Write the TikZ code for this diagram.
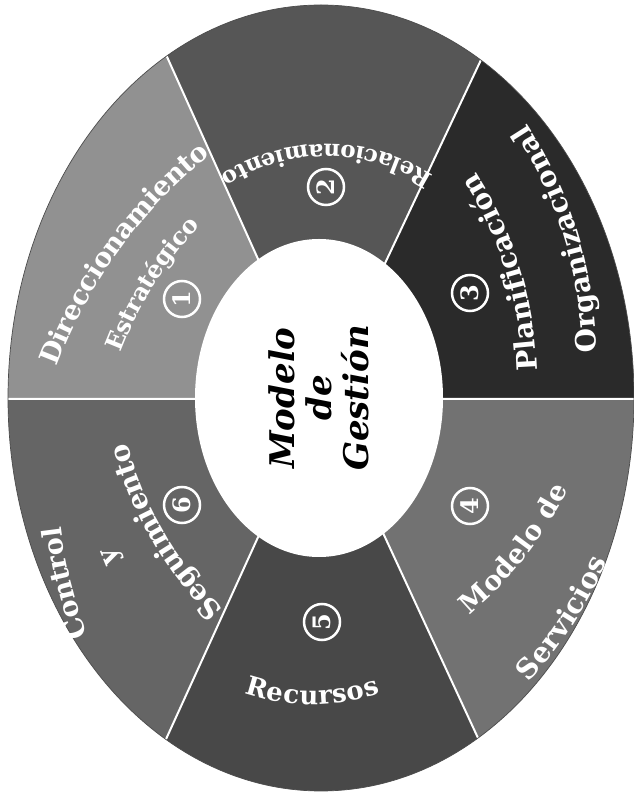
\documentclass[tikz,border=0pt]{standalone}
\usepackage{fontspec}
\usetikzlibrary{calc,decorations.text}
\newfontfamily\ringfam{DejaVu Serif}
\newcommand{\ringline}[7]{%
  \pgfmathsetmacro{\rlX}{#1}%
  \pgfmathsetmacro{\rlY}{796-#2}%
  \pgfmathsetmacro{\rlD}{min(80,13000/#4)}%
  \pgfmathsetmacro{\rlR}{-0.34*#7}%
  \ifnum#5>0
    \pgfmathsetmacro{\rlphi}{#3+90}%
    \pgfmathsetmacro{\rlA}{\rlphi+\rlD}%
    \pgfmathsetmacro{\rlB}{\rlphi-\rlD}%
  \else
    \pgfmathsetmacro{\rlphi}{#3-90}%
    \pgfmathsetmacro{\rlA}{\rlphi-\rlD}%
    \pgfmathsetmacro{\rlB}{\rlphi+\rlD}%
  \fi
  \pgfmathsetmacro{\rlOx}{\rlX-#4*cos(\rlphi)}%
  \pgfmathsetmacro{\rlOy}{\rlY-#4*sin(\rlphi)}%
  \path[decorate,decoration={text along path,text align=center,raise=\rlR pt,text color=white,
      text={|\ringfam\bfseries\fontsize{#7}{#7}\selectfont|#6}}]
    (\rlOx,\rlOy) ++(\rlA:#4) arc[start angle=\rlA,end angle=\rlB,radius=#4];
}
\definecolor{sA}{HTML}{919191}
\definecolor{sB}{HTML}{565656}
\definecolor{sC}{HTML}{2A2A2A}
\definecolor{sD}{HTML}{727272}
\definecolor{sE}{HTML}{484848}
\definecolor{sF}{HTML}{656565}
\tikzset{
  spoke/.style={draw=white,line width=2pt},
  numcirc/.style={circle,draw=white,line width=2.5pt,minimum size=36pt,inner sep=0pt,
    text=white,font=\ringfam\bfseries\fontsize{24}{24}\selectfont,rotate=90},
}
\begin{document}
\begin{tikzpicture}[x=1pt,y=1pt]
\useasboundingbox[fill=white] (0,0) rectangle (634,796);
\coordinate (C) at (321,397);
\coordinate (ul) at (168,737);
\coordinate (ur) at (480,734);
\coordinate (ll) at (167,59);
\coordinate (lr) at (478,58);
\coordinate (eUL) at ($(C)!1.6!(ul)$);
\coordinate (eUR) at ($(C)!1.6!(ur)$);
\coordinate (eLL) at ($(C)!1.6!(ll)$);
\coordinate (eLR) at ($(C)!1.6!(lr)$);
\coordinate (eL) at (-60,397);
\coordinate (eR) at (700,397);
\begin{scope}
  \clip (321,398) ellipse [x radius=313, y radius=393];
  \fill[sA] (C) -- (eL) -- (-60,960) -- (eUL) -- cycle;
  \fill[sB] (C) -- (eUL) -- (eUR) -- cycle;
  \fill[sC] (C) -- (eUR) -- (700,960) -- (eR) -- cycle;
  \fill[sD] (C) -- (eR) -- (700,-170) -- (eLR) -- cycle;
  \fill[sE] (C) -- (eLR) -- (eLL) -- cycle;
  \fill[sF] (C) -- (eLL) -- (-60,-170) -- (eL) -- cycle;
  \draw[spoke] (C) -- (eUL) (C) -- (eUR) (C) -- (eLL) (C) -- (eLR) (C) -- (eL) (C) -- (eR);
\end{scope}
\draw[black!70,line width=0.7pt] (321,398) ellipse [x radius=313, y radius=393];
\fill[white] (319,398) ellipse [x radius=124, y radius=159];
\node[rotate=90,align=center,font=\ringfam\bfseries\itshape\fontsize{34}{37}\selectfont] (centro) at (319,398) {Modelo\\de\\Gestión};
\node[numcirc] (n1) at (182,497) {1};
\node[numcirc] (n2) at (326,609) {2};
\node[numcirc] (n3) at (470,503) {3};
\node[numcirc] (n4) at (470,290) {4};
\node[numcirc] (n5) at (322,174) {5};
\node[numcirc] (n6) at (182,291) {6};
\ringline{112}{245}{54}{500}{1}{Direccionamiento}{27}
\ringline{147}{281}{58}{400}{1}{Estratégico}{24}
\ringline{327}{152}{180}{190}{-1}{Relacionamiento}{23}
\ringline{511}{270}{107}{380}{-1}{Planificación}{28}
\ringline{569}{236}{107}{420}{-1}{Organizacional}{28}
\ringline{518}{552}{52}{380}{-1}{Modelo de}{27}
\ringline{565}{620}{57}{420}{-1}{Servicios}{28}
\ringline{312}{696}{0}{200}{-1}{Recursos}{26}
\ringline{62}{584}{104}{450}{1}{Control}{27}
\ringline{108}{558}{112}{400}{1}{y}{27}
\ringline{156}{537}{120}{380}{1}{Seguimiento}{28}
\end{tikzpicture}
\end{document}
